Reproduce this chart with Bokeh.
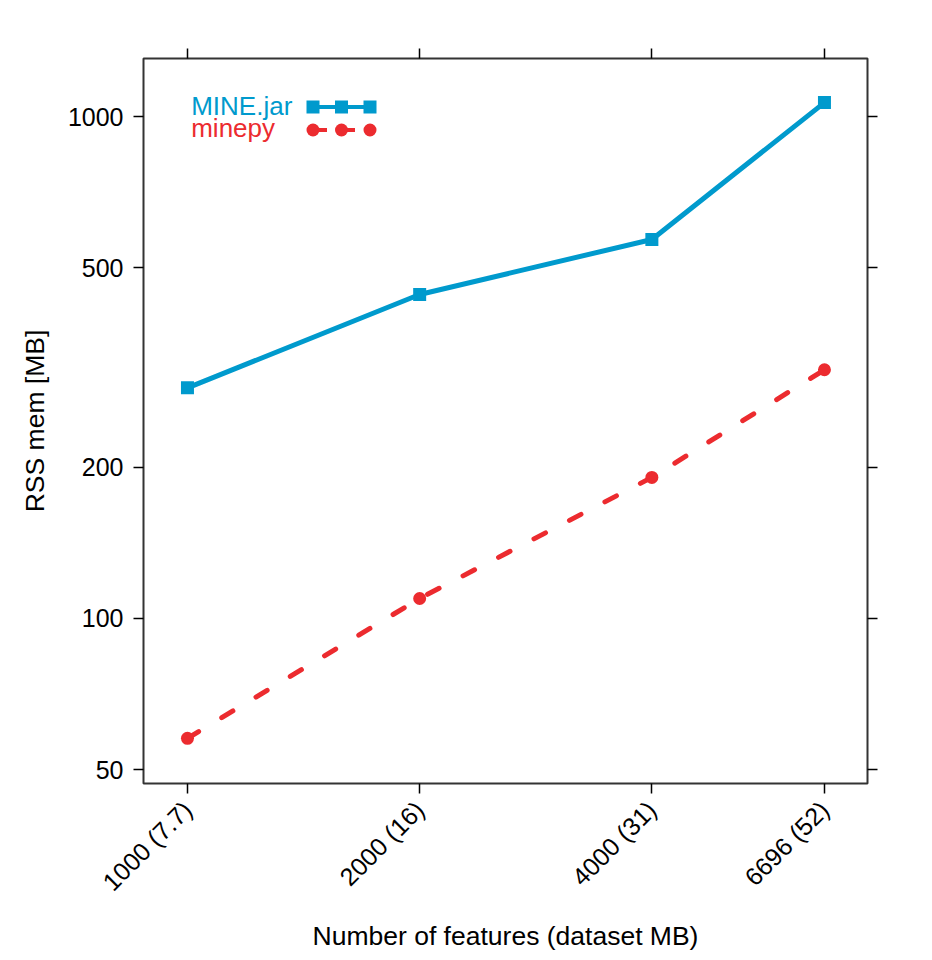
import math
from bokeh.plotting import figure
from bokeh.models import (LogAxis, FixedTicker, PrintfTickFormatter, Label, Arrow,
                          BoxAnnotation, Range1d)
from bokeh.embed import file_html
from bokeh.resources import INLINE

# ---- data ----
features = [1000, 2000, 4000, 6696]
x_labels = ["1000 (7.7)", "2000 (16)", "4000 (31)", "6696 (52)"]
mine_jar = [288, 442, 569, 1066]
minepy = [57.7, 109.6, 191, 313]
y_ticks = [50, 100, 200, 500, 1000]
series_names = ["MINE.jar", "minepy"]

BLUE = "#009ACD"
RED = "#EC2B2F"
FONT = "Liberation Sans"

p = figure(width=930, height=958, x_axis_type="log", y_axis_type="log",
           x_range=Range1d(877, 7614), y_range=Range1d(46.9, 1305),
           output_backend="svg", toolbar_location=None,
           min_border_left=143, min_border_right=63, min_border_top=58,
           min_border_bottom=175)

p.xgrid.visible = False
p.ygrid.visible = False
p.outline_line_color = "#333333"
p.outline_line_width = 2
p.background_fill_color = "white"
p.border_fill_color = "white"

bottom_axis = p.below[0]
left_axis = p.left[0]

bottom_axis.ticker = FixedTicker(ticks=features)
left_axis.ticker = FixedTicker(ticks=y_ticks)
bottom_axis.formatter = PrintfTickFormatter(format="%d")
left_axis.formatter = PrintfTickFormatter(format="%d")
bottom_axis.major_label_overrides = {f: lab for f, lab in zip(features, x_labels)}
left_axis.major_label_overrides = {t: str(t) for t in y_ticks}
bottom_axis.major_label_orientation = math.pi / 4

top_axis = LogAxis(ticker=FixedTicker(ticks=features))
right_axis = LogAxis(ticker=FixedTicker(ticks=y_ticks))
p.add_layout(top_axis, "above")
p.add_layout(right_axis, "right")

for ax in [bottom_axis, left_axis, top_axis, right_axis]:
    ax.axis_line_color = None
    ax.major_tick_out = 10
    ax.major_tick_in = 0
    ax.minor_tick_line_color = None
    ax.major_tick_line_color = "black"
    ax.major_tick_line_width = 1.5
    ax.major_label_text_font = FONT
    ax.major_label_text_color = "black"
    ax.axis_label_text_font = FONT
    ax.axis_label_text_font_style = "normal"
    ax.axis_label_text_color = "black"

for ax in [top_axis, right_axis]:
    ax.major_label_text_font_size = "0px"
    ax.major_label_text_alpha = 0
    ax.major_label_standoff = 0
    ax.axis_label = None

bottom_axis.major_label_text_font_size = "25px"
left_axis.major_label_text_font_size = "25px"
bottom_axis.major_label_standoff = 12
left_axis.major_label_standoff = 10

bottom_axis.axis_label = "Number of features (dataset MB)"
left_axis.axis_label = "RSS mem [MB]"
bottom_axis.axis_label_text_font_size = "26.5px"
left_axis.axis_label_text_font_size = "26.5px"
bottom_axis.axis_label_standoff = 12
left_axis.axis_label_standoff = 15

# ---- data marks ----
p.line(features, mine_jar, line_color=BLUE, line_width=5)
p.scatter(features, mine_jar, marker="square", size=13, fill_color=BLUE, line_color=None)
p.line(features, minepy, line_color=RED, line_width=5, line_dash="13 27", line_cap="round")
p.scatter(features, minepy, marker="circle", size=13, fill_color=RED, line_color=None)

# ---- legend (top-left, text then sample) ----
leg_colors = [BLUE, RED]
leg_text_y = [678.0, 655.5]
leg_sample_y = [676.5, 653.5]
sample_x = [169.5, 198.0, 226.5]
for i, name in enumerate(series_names):
    p.add_layout(Label(x=47.7, y=leg_text_y[i], x_units="screen", y_units="screen",
                       text=name, text_font=FONT, text_font_size="26px",
                       text_color=leg_colors[i], text_baseline="alphabetic"))
    p.add_layout(Arrow(start=None, end=None,
                       x_start=sample_x[0], y_start=leg_sample_y[i],
                       x_end=sample_x[-1], y_end=leg_sample_y[i],
                       start_units="screen", end_units="screen",
                       line_color=leg_colors[i], line_width=4,
                       line_dash="solid" if i == 0 else "14 14"))
    for cx in sample_x:
        p.add_layout(BoxAnnotation(left=cx - 6.5, right=cx + 6.5,
                                   bottom=leg_sample_y[i] - 6.5, top=leg_sample_y[i] + 6.5,
                                   left_units="screen", right_units="screen",
                                   bottom_units="screen", top_units="screen",
                                   fill_color=leg_colors[i], fill_alpha=1.0, line_color=None,
                                   border_radius=0 if i == 0 else 7))

open("out.html", "w").write(file_html(p, INLINE))
